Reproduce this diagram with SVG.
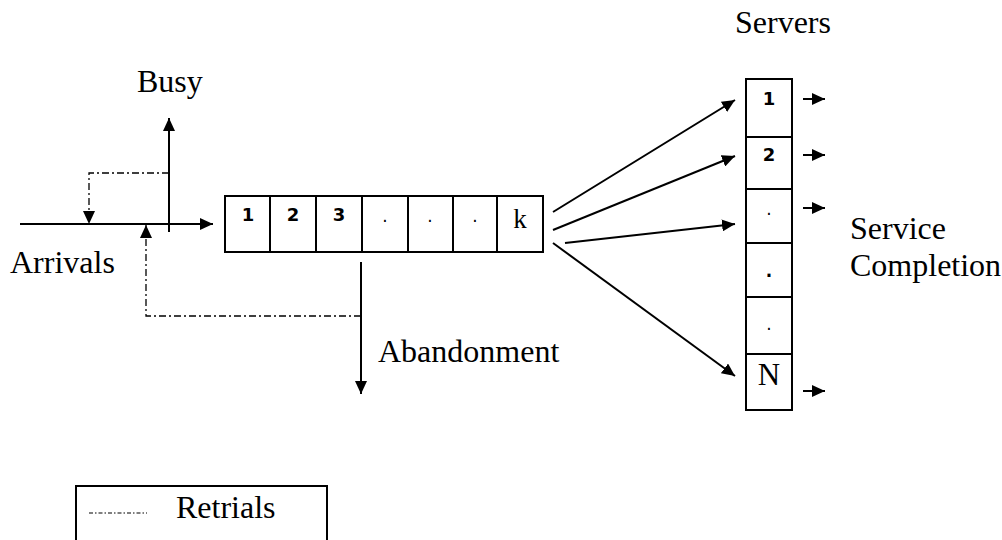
<svg xmlns="http://www.w3.org/2000/svg" width="1002" height="540" viewBox="0 0 1002 540">
  <style>
    .lbl { font-family: "Liberation Serif", "Times New Roman", serif; font-size: 32px; fill: #000; }
    .num { font-family: "DejaVu Sans", "Liberation Sans", sans-serif; font-size: 18px; font-weight: bold; fill: #000; text-anchor: middle; }
    .dot { font-family: "DejaVu Sans", "Liberation Sans", sans-serif; font-size: 17px; fill: #000; text-anchor: middle; }
    .cellTxt { font-family: "Liberation Serif", "Times New Roman", serif; fill: #000; text-anchor: middle; }
    .box { fill: #fff; stroke: #000; stroke-width: 2; }
    .flow { fill: none; stroke: #000; stroke-width: 2; }
    .retry { fill: none; stroke: #000; stroke-width: 1.3; stroke-dasharray: 7 3 2 3; }
  </style>
  <defs>
    <marker id="head" viewBox="0 0 13 12" refX="13" refY="6" markerWidth="13" markerHeight="12" markerUnits="userSpaceOnUse" orient="auto">
      <path d="M0,0 L13,6 L0,12 z" fill="#000"/>
    </marker>
  </defs>

  <!-- Queue buffer with k waiting positions -->
  <g id="queue">
    <rect class="box" x="225" y="196" width="318" height="56"/>
    <path class="flow" d="M270,196 V252 M316,196 V252 M362,196 V252 M408,196 V252 M453,196 V252 M497,196 V252"/>
    <text class="num" x="248" y="221">1</text>
    <text class="num" x="293" y="221">2</text>
    <text class="num" x="339" y="221">3</text>
    <text class="dot" x="385" y="222">.</text>
    <text class="dot" x="430" y="222">.</text>
    <text class="dot" x="475" y="222">.</text>
    <text class="cellTxt" x="520" y="228" font-size="27">k</text>
  </g>

  <!-- Server column with N servers -->
  <g id="servers">
    <rect class="box" x="746" y="79" width="46" height="331"/>
    <path class="flow" d="M746,137 H792 M746,189 H792 M746,243 H792 M746,297 H792 M746,354 H792"/>
    <text class="num" x="769" y="105">1</text>
    <text class="num" x="769" y="161">2</text>
    <text class="dot" x="769" y="215">.</text>
    <text class="dot" x="769" y="277" font-weight="bold">.</text>
    <text class="dot" x="769" y="330">.</text>
    <text class="cellTxt" x="769" y="385" font-size="31">N</text>
  </g>

  <!-- Legend -->
  <g id="legend">
    <rect class="box" x="76" y="486" width="251" height="80"/>
    <line x1="89" y1="513" x2="147" y2="513" stroke="#000" stroke-width="1.2" stroke-dasharray="4 2 1.5 2"/>
    <text class="lbl" x="176" y="518">Retrials</text>
  </g>

  <!-- Text labels -->
  <g id="labels">
    <text class="lbl" x="137" y="92">Busy</text>
    <text class="lbl" x="10" y="273">Arrivals</text>
    <text class="lbl" x="378" y="362">Abandonment</text>
    <text class="lbl" x="735" y="33">Servers</text>
    <text class="lbl" x="850" y="239" font-size="31">Service</text>
    <text class="lbl" x="850" y="276" font-size="31">Completion</text>
  </g>

  <!-- Connectors -->
  <g id="connectors">
    <!-- arrivals into the queue -->
    <line class="flow" x1="20" y1="224" x2="213" y2="224" marker-end="url(#head)"/>
    <!-- blocked arrivals -->
    <line class="flow" x1="169" y1="232" x2="169" y2="118" marker-end="url(#head)"/>
    <!-- abandonment -->
    <line class="flow" x1="361" y1="262" x2="361" y2="394" marker-end="url(#head)"/>
    <!-- retrial loops -->
    <path class="retry" d="M169,173 H89 V224" marker-end="url(#head)"/>
    <path class="retry" d="M361,316 H146 V225" marker-end="url(#head)"/>
    <!-- dispatch to servers -->
    <line class="flow" x1="553" y1="212" x2="735" y2="100" marker-end="url(#head)"/>
    <line class="flow" x1="553" y1="230" x2="735" y2="156" marker-end="url(#head)"/>
    <line class="flow" x1="565" y1="243" x2="735" y2="224" marker-end="url(#head)"/>
    <line class="flow" x1="553" y1="243" x2="735" y2="376" marker-end="url(#head)"/>
    <!-- service completions -->
    <line class="flow" x1="803" y1="99" x2="825" y2="99" marker-end="url(#head)"/>
    <line class="flow" x1="803" y1="155" x2="825" y2="155" marker-end="url(#head)"/>
    <line class="flow" x1="803" y1="208" x2="825" y2="208" marker-end="url(#head)"/>
    <line class="flow" x1="803" y1="391" x2="825" y2="391" marker-end="url(#head)"/>
  </g>
</svg>
